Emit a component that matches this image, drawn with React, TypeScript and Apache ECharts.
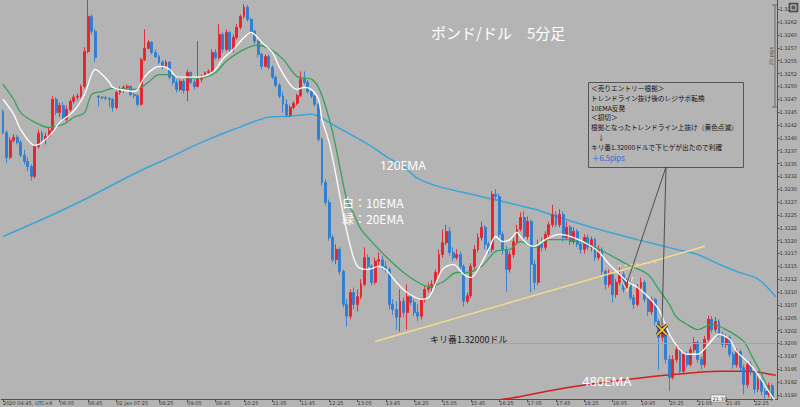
import React, { useEffect, useRef } from "react";
import * as echarts from "echarts";

// ---- categories (5-minute bars) ----
const firstBar = "04:45";
const barStepMinutes = 5;
const slotCount = 219;
const categories: string[] = (() => {
  const [h0, m0] = firstBar.split(":").map(Number);
  const out: string[] = [];
  for (let k = 0; k < slotCount; k++) {
    const t = h0 * 60 + m0 + barStepMinutes * k;
    out.push(String(Math.floor(t / 60)).padStart(2, "0") + ":" + String(t % 60).padStart(2, "0"));
  }
  return out;
})();

// ---- tick labels ----
const timeTickTimes = ["04:45","06:05","06:45","07:25","08:25","09:05","09:45","10:25","11:05","11:45","12:25","13:05","13:45","14:25","15:05","15:45","16:25","17:05","17:45","18:25","19:05","19:45","20:25","21:05","21:45","22:25"];
const timeTickLabels = ["2020 04:45, UTC+9","06:05","06:45","02 Jan 07:25","08:25","09:05","09:45","10:25","11:05","11:45","12:25","13:05","13:45","14:25","15:05","15:45","16:25","17:05","17:45","18:25","19:05","19:45","20:25","21:05","21:45","22:25"];
const priceTicks = [1.3190,1.31925,1.3195,1.31975,1.3200,1.32025,1.3205,1.32075,1.3210,1.32125,1.3215,1.32175,1.3220,1.32225,1.3225,1.32275,1.3230,1.32325,1.3235,1.32375,1.3240,1.32425,1.3245,1.32475,1.3250,1.32525,1.3255,1.32575,1.3260,1.32625,1.3265];

// ---- candles [open, close, low, high] ----
const candles: number[][] = [
[1.32451,1.32410,1.32407,1.32455],[1.32410,1.32362,1.32352,1.32414],[1.32362,1.32395,1.32358,1.32401],[1.32395,1.32401,1.32391,1.32407],
[1.32401,1.32391,1.32387,1.32405],[1.32391,1.32366,1.32362,1.32395],[1.32366,1.32354,1.32348,1.32377],[1.32354,1.32344,1.32335,1.32362],
[1.32344,1.32325,1.32317,1.32348],[1.32325,1.32383,1.32321,1.32387],[1.32383,1.32409,1.32379,1.32416],[1.32409,1.32397,1.32391,1.32414],
[1.32397,1.32403,1.32387,1.32410],[1.32403,1.32414,1.32399,1.32420],[1.32414,1.32475,1.32410,1.32481],[1.32475,1.32449,1.32444,1.32479],
[1.32449,1.32463,1.32440,1.32469],[1.32463,1.32436,1.32432,1.32469],[1.32436,1.32455,1.32432,1.32463],[1.32455,1.32471,1.32451,1.32475],
[1.32471,1.32479,1.32467,1.32484],[1.32479,1.32481,1.32473,1.32486],[1.32481,1.32500,1.32477,1.32504],[1.32500,1.32568,1.32496,1.32576],
[1.32568,1.32636,1.32564,1.32669],[1.32636,1.32607,1.32601,1.32640],[1.32607,1.32556,1.32547,1.32611],[1.32481,1.32479,1.32461,1.32483],
[1.32479,1.32478,1.32475,1.32481],[1.32478,1.32477,1.32473,1.32481],[1.32477,1.32475,1.32459,1.32479],[1.32475,1.32459,1.32451,1.32477],
[1.32459,1.32488,1.32455,1.32492],[1.32488,1.32494,1.32484,1.32500],[1.32494,1.32498,1.32488,1.32502],[1.32498,1.32500,1.32492,1.32504],
[1.32500,1.32484,1.32481,1.32502],[1.32484,1.32482,1.32477,1.32488],[1.32482,1.32465,1.32461,1.32486],[1.32465,1.32552,1.32463,1.32556],
[1.32552,1.32574,1.32549,1.32611],[1.32574,1.32586,1.32572,1.32590],[1.32586,1.32566,1.32562,1.32588],[1.32566,1.32558,1.32555,1.32572],
[1.32558,1.32547,1.32543,1.32562],[1.32547,1.32539,1.32533,1.32551],[1.32539,1.32547,1.32537,1.32551],[1.32547,1.32518,1.32514,1.32549],
[1.32518,1.32508,1.32502,1.32521],[1.32508,1.32494,1.32488,1.32514],[1.32494,1.32510,1.32490,1.32514],[1.32510,1.32492,1.32486,1.32514],
[1.32492,1.32527,1.32471,1.32533],[1.32527,1.32508,1.32504,1.32529],[1.32508,1.32500,1.32494,1.32514],[1.32500,1.32514,1.32498,1.32588],
[1.32514,1.32519,1.32508,1.32523],[1.32519,1.32527,1.32518,1.32529],[1.32527,1.32529,1.32523,1.32533],[1.32529,1.32566,1.32525,1.32572],
[1.32566,1.32556,1.32552,1.32572],[1.32556,1.32601,1.32552,1.32621],[1.32601,1.32572,1.32566,1.32605],[1.32572,1.32605,1.32568,1.32611],
[1.32605,1.32572,1.32566,1.32607],[1.32572,1.32595,1.32566,1.32601],[1.32595,1.32615,1.32591,1.32621],[1.32615,1.32636,1.32611,1.32640],
[1.32636,1.32654,1.32632,1.32660],[1.32654,1.32630,1.32626,1.32658],[1.32630,1.32607,1.32603,1.32634],[1.32607,1.32588,1.32582,1.32611],
[1.32588,1.32562,1.32556,1.32591],[1.32562,1.32539,1.32533,1.32566],[1.32539,1.32558,1.32537,1.32562],[1.32558,1.32537,1.32533,1.32562],
[1.32537,1.32518,1.32514,1.32541],[1.32518,1.32502,1.32498,1.32521],[1.32502,1.32481,1.32477,1.32506],[1.32481,1.32465,1.32449,1.32490],
[1.32465,1.32444,1.32440,1.32475],[1.32444,1.32459,1.32440,1.32463],[1.32459,1.32467,1.32455,1.32471],[1.32467,1.32482,1.32463,1.32486],
[1.32482,1.32514,1.32479,1.32529],[1.32514,1.32508,1.32504,1.32529],[1.32508,1.32490,1.32486,1.32512],[1.32490,1.32481,1.32477,1.32494],
[1.32481,1.32465,1.32461,1.32484],[1.32465,1.32397,1.32393,1.32469],[1.32397,1.32313,1.32307,1.32401],[1.32313,1.32274,1.32268,1.32319],
[1.32274,1.32206,1.32200,1.32280],[1.32206,1.32163,1.32158,1.32212],[1.32163,1.32183,1.32154,1.32193],[1.32183,1.32140,1.32134,1.32187],
[1.32140,1.32076,1.32070,1.32144],[1.32076,1.32053,1.32033,1.32086],[1.32053,1.32099,1.32047,1.32105],[1.32099,1.32076,1.32066,1.32109],
[1.32076,1.32091,1.32062,1.32105],[1.32091,1.32115,1.32086,1.32125],[1.32115,1.32167,1.32111,1.32187],[1.32167,1.32150,1.32144,1.32173],
[1.32150,1.32119,1.32113,1.32154],[1.32119,1.32160,1.32115,1.32167],[1.32160,1.32163,1.32152,1.32177],[1.32163,1.32150,1.32144,1.32171],
[1.32150,1.32144,1.32138,1.32160],[1.32144,1.32076,1.32066,1.32148],[1.32076,1.32066,1.32056,1.32086],[1.32066,1.32051,1.32027,1.32082],
[1.32051,1.32082,1.32023,1.32105],[1.32082,1.32060,1.32051,1.32089],[1.32060,1.32091,1.32027,1.32115],[1.32091,1.32080,1.32074,1.32097],
[1.32080,1.32060,1.32054,1.32086],[1.32060,1.32053,1.32043,1.32076],[1.32053,1.32086,1.32047,1.32089],[1.32086,1.32105,1.32080,1.32111],
[1.32105,1.32109,1.32099,1.32119],[1.32109,1.32115,1.32101,1.32123],[1.32115,1.32138,1.32109,1.32144],[1.32138,1.32173,1.32132,1.32183],
[1.32173,1.32196,1.32167,1.32222],[1.32196,1.32218,1.32191,1.32231],[1.32218,1.32177,1.32171,1.32226],[1.32177,1.32167,1.32160,1.32187],
[1.32167,1.32173,1.32162,1.32183],[1.32173,1.32150,1.32144,1.32179],[1.32150,1.32082,1.32072,1.32154],[1.32082,1.32093,1.32078,1.32099],
[1.32093,1.32150,1.32088,1.32156],[1.32150,1.32183,1.32144,1.32191],[1.32183,1.32206,1.32177,1.32214],[1.32206,1.32226,1.32200,1.32237],
[1.32226,1.32193,1.32183,1.32230],[1.32193,1.32183,1.32175,1.32198],[1.32183,1.32290,1.32177,1.32296],[1.32290,1.32286,1.32280,1.32300],
[1.32286,1.32212,1.32206,1.32292],[1.32212,1.32183,1.32173,1.32218],[1.32183,1.32144,1.32101,1.32189],[1.32144,1.32173,1.32138,1.32179],
[1.32173,1.32198,1.32167,1.32206],[1.32198,1.32222,1.32193,1.32231],[1.32222,1.32245,1.32218,1.32255],[1.32245,1.32208,1.32202,1.32257],
[1.32208,1.32237,1.32202,1.32247],[1.32237,1.32154,1.32099,1.32241],[1.32154,1.32119,1.32105,1.32163],[1.32119,1.32193,1.32113,1.32202],
[1.32193,1.32187,1.32179,1.32206],[1.32187,1.32212,1.32181,1.32218],[1.32212,1.32231,1.32206,1.32237],[1.32231,1.32251,1.32226,1.32270],
[1.32251,1.32231,1.32226,1.32257],[1.32231,1.32251,1.32226,1.32261],[1.32251,1.32206,1.32198,1.32257],[1.32206,1.32226,1.32202,1.32237],
[1.32226,1.32198,1.32191,1.32230],[1.32198,1.32218,1.32193,1.32226],[1.32218,1.32193,1.32187,1.32222],[1.32193,1.32183,1.32175,1.32198],
[1.32183,1.32206,1.32175,1.32212],[1.32206,1.32187,1.32181,1.32212],[1.32187,1.32202,1.32179,1.32208],[1.32202,1.32167,1.32160,1.32206],
[1.32167,1.32183,1.32162,1.32191],[1.32183,1.32140,1.32134,1.32187],[1.32140,1.32115,1.32105,1.32144],[1.32115,1.32134,1.32109,1.32144],
[1.32134,1.32095,1.32080,1.32140],[1.32095,1.32119,1.32089,1.32125],[1.32119,1.32134,1.32113,1.32148],[1.32134,1.32105,1.32099,1.32140],
[1.32105,1.32121,1.32101,1.32126],[1.32121,1.32089,1.32084,1.32125],[1.32089,1.32076,1.32068,1.32095],[1.32076,1.32109,1.32072,1.32115],
[1.32109,1.32119,1.32103,1.32128],[1.32119,1.32086,1.32080,1.32123],[1.32086,1.32062,1.32054,1.32089],[1.32062,1.32086,1.32056,1.32091],
[1.32086,1.32043,1.32035,1.32089],[1.32043,1.32012,1.31949,1.32047],[1.32012,1.32027,1.32004,1.32035],[1.32027,1.31969,1.31961,1.32031],
[1.31969,1.31934,1.31907,1.31977],[1.31934,1.31969,1.31930,1.31977],[1.31969,1.31988,1.31963,1.31996],[1.31988,1.31946,1.31938,1.31992],
[1.31946,1.31979,1.31940,1.31984],[1.31979,1.31959,1.31953,1.31984],[1.31959,1.31988,1.31955,1.31994],[1.31988,1.32002,1.31982,1.32012],
[1.32002,1.31969,1.31963,1.32006],[1.31969,1.31959,1.31949,1.31975],[1.31959,1.32008,1.31953,1.32014],[1.32008,1.32047,1.32004,1.32054],
[1.32047,1.32027,1.32021,1.32053],[1.32027,1.32043,1.32021,1.32051],[1.32043,1.32018,1.32012,1.32047],[1.32018,1.31998,1.31992,1.32023],
[1.31998,1.32012,1.31992,1.32019],[1.32012,1.31979,1.31973,1.32016],[1.31979,1.31959,1.31951,1.31984],[1.31959,1.31984,1.31953,1.31990],
[1.31984,1.31953,1.31947,1.31988],[1.31953,1.31920,1.31901,1.31959],[1.31920,1.31959,1.31914,1.31965],[1.31959,1.31946,1.31938,1.31965],
[1.31946,1.31911,1.31903,1.31949],[1.31911,1.31930,1.31905,1.31936],[1.31930,1.31907,1.31899,1.31934],[1.31907,1.31901,1.31893,1.31913],
[1.31901,1.31918,1.31895,1.31924],[1.31918,1.31895,1.31887,1.31922]
];

// ---- moving-average lines: [bar index, price] ----
const ema10White: number[][] = [[0,1.32475],[3,1.32446],[5,1.32416],[9,1.32385],[11,1.32391],[14,1.32411],[16,1.32430],[19,1.32446],[21,1.32461],[23,1.32484],[25,1.32523],[26,1.32533],[28,1.32523],[30,1.32508],[31,1.32498],[33,1.32494],[37,1.32490],[38,1.32494],[40,1.32519],[43,1.32537],[45,1.32539],[47,1.32533],[49,1.32519],[52,1.32518],[55,1.32518],[58,1.32523],[60,1.32533],[62,1.32553],[65,1.32572],[68,1.32595],[70,1.32605],[71,1.32601],[73,1.32586],[76,1.32566],[78,1.32537],[81,1.32504],[83,1.32494],[85,1.32498],[87,1.32494],[89,1.32475],[90,1.32436],[92,1.32391],[94,1.32325],[96,1.32251],[98,1.32189],[100,1.32150],[103,1.32144],[106,1.32150],[108,1.32144],[111,1.32119],[114,1.32099],[118,1.32086],[120,1.32089],[121,1.32099],[124,1.32144],[127,1.32154],[128,1.32150],[130,1.32134],[132,1.32128],[134,1.32144],[137,1.32183],[139,1.32208],[141,1.32198],[143,1.32202],[145,1.32216],[146,1.32208],[148,1.32193],[150,1.32189],[153,1.32202],[157,1.32212],[161,1.32206],[165,1.32193],[168,1.32179],[171,1.32154],[174,1.32134],[176,1.32121],[179,1.32109],[182,1.32091],[185,1.32066],[188,1.32018],[191,1.31988],[193,1.31979],[196,1.31979],[199,1.31998],[202,1.32018],[205,1.32008],[207,1.31984],[210,1.31965],[213,1.31940],[216,1.31907],[218,1.31887]];
const ema20Green: number[][] = [[0,1.32504],[3,1.32475],[5,1.32449],[9,1.32430],[13,1.32420],[17,1.32426],[20,1.32440],[23,1.32449],[25,1.32484],[28,1.32490],[31,1.32496],[37,1.32494],[39,1.32498],[41,1.32508],[44,1.32523],[46,1.32523],[50,1.32518],[54,1.32516],[57,1.32518],[60,1.32527],[63,1.32549],[67,1.32568],[70,1.32578],[72,1.32580],[75,1.32574],[79,1.32553],[83,1.32519],[87,1.32514],[89,1.32498],[91,1.32461],[93,1.32411],[95,1.32344],[97,1.32280],[99,1.32251],[101,1.32222],[104,1.32198],[108,1.32169],[113,1.32138],[117,1.32119],[120,1.32111],[124,1.32119],[128,1.32138],[131,1.32138],[135,1.32150],[139,1.32179],[143,1.32183],[146,1.32198],[150,1.32187],[154,1.32202],[159,1.32202],[165,1.32193],[171,1.32173],[176,1.32154],[182,1.32134],[185,1.32105],[188,1.32076],[190,1.32051],[193,1.32037],[196,1.32027],[200,1.32037],[204,1.32027],[209,1.32004],[211,1.31979],[214,1.31940],[217,1.31895]];
const ema120Blue: number[][] = [[0,1.32208],[11,1.32241],[23,1.32280],[37,1.32330],[47,1.32362],[56,1.32391],[65,1.32416],[75,1.32440],[81,1.32442],[87,1.32446],[89,1.32442],[94,1.32422],[99,1.32403],[104,1.32383],[108,1.32364],[113,1.32344],[117,1.32321],[123,1.32305],[131,1.32292],[141,1.32276],[150,1.32261],[157,1.32245],[168,1.32222],[179,1.32202],[190,1.32183],[196,1.32173],[202,1.32154],[207,1.32140],[213,1.32125],[218,1.32091]];
const ema480Red: number[][] = [[130,1.31878],[139,1.31889],[146,1.31897],[155,1.31909],[165,1.31920],[176,1.31930],[190,1.31940],[202,1.31946],[210,1.31946],[218,1.31938]];

// ---- reference levels ----
const roundLevel = 1.32; // キリ番
const roundLevelFrom = 131;
const trendLine = [[105, 1.32004], [198, 1.32189]];

const noteLines = [
  "＜売りエントリー根拠＞",
  "トレンドライン抜け後のレジサポ転換",
  "10EMA反発",
  "＜損切＞",
  "根拠となったトレンドライン上抜け（黄色点滅）",
  "　↓",
  "キリ番1.32000ドルで下ヒゲが出たので利確",
];
const noteResult = "＋6.5pips";

const BG = "#b4b4b4";
const UP = "#e5232b";
const DOWN = "#2e7dd3";
const JP = '"Noto Sans CJK JP", "Noto Sans", sans-serif';

export default function App() {
  const ref = useRef<HTMLDivElement>(null);
  useEffect(() => {
    document.body.style.margin = "0";
    const chart = echarts.init(ref.current!, null, { renderer: "svg" });
    const tickMap = new Map<number, string>();
    timeTickTimes.forEach((t, k) => tickMap.set(categories.indexOf(t), timeTickLabels[k]));
    const isTick = (index: number) => tickMap.has(index);

    const txt = (text: string, x: number, y: number, font: string, fill: string, extra: any = {}) => ({
      type: "text",
      z: 100,
      silent: true,
      style: { text, x, y, font, fill, textAlign: "left", align: "left", textVerticalAlign: "middle", verticalAlign: "middle", ...extra },
    });

    const noteY = [88, 98, 108, 117, 127, 137, 147];
    const graphics: any[] = [
      txt("ポンド/ドル　5分足", 431, 32, `15px ${JP}`, "#ffffff"),
      txt("120EMA", 380, 165, `12px "Noto Sans", sans-serif`, "#ffffff"),
      txt("白：10EMA", 342, 202, `12px ${JP}`, "#ffffff"),
      txt("緑：20EMA", 342, 218, `12px ${JP}`, "#ffffff"),
      txt("キリ番1.32000ドル", 430, 339, `9px ${JP}`, "#222222"),
      txt("480EMA", 582, 381, `13px "Noto Sans", sans-serif`, "#ffffff"),
      {
        type: "rect", z: 100, silent: true,
        shape: { x: 588.5, y: 82.5, width: 155, height: 85 },
        style: { fill: "none", stroke: "#555555", lineWidth: 1 },
      },
      ...noteLines.map((s, k) => txt(s, 591, noteY[k], `6.7px ${JP}`, "#111111")),
      txt(noteResult, 592, 157, `7.5px ${JP}`, "#2d5fd6"),
      { type: "line", z: 100, silent: true, shape: { x1: 666, y1: 167, x2: 627, y2: 283 }, style: { stroke: "#333333", lineWidth: 0.8 } },
      { type: "line", z: 100, silent: true, shape: { x1: 666, y1: 167, x2: 662, y2: 325 }, style: { stroke: "#333333", lineWidth: 0.8 } },
      // yellow flashing dashed segment
      { type: "line", z: 100, silent: true, shape: { x1: 618, y1: 266, x2: 660, y2: 262 }, style: { stroke: "#f2dc8a", lineWidth: 1, lineDash: [3, 3] } },
      // entry mark
      { type: "polyline", z: 100, silent: true, shape: { points: [[621, 279], [627, 291], [633, 277]] }, style: { stroke: "#f4e39a", lineWidth: 1.3, fill: "none" } },
      // exit X mark
      { type: "line", z: 100, silent: true, shape: { x1: 657, y1: 325, x2: 667, y2: 335 }, style: { stroke: "#222", lineWidth: 3.5 } },
      { type: "line", z: 100, silent: true, shape: { x1: 667, y1: 325, x2: 657, y2: 335 }, style: { stroke: "#222", lineWidth: 3.5 } },
      { type: "line", z: 101, silent: true, shape: { x1: 657, y1: 325, x2: 667, y2: 335 }, style: { stroke: "#f0c23a", lineWidth: 1.8 } },
      { type: "line", z: 101, silent: true, shape: { x1: 667, y1: 325, x2: 657, y2: 335 }, style: { stroke: "#f0c23a", lineWidth: 1.8 } },
      // measuring tool at top right
      { type: "line", z: 100, silent: true, shape: { x1: 775, y1: 5, x2: 775, y2: 107 }, style: { stroke: "#555", lineWidth: 0.8 } },
      { type: "line", z: 100, silent: true, shape: { x1: 772, y1: 5, x2: 778, y2: 5 }, style: { stroke: "#555", lineWidth: 0.8 } },
      { type: "line", z: 100, silent: true, shape: { x1: 772, y1: 107, x2: 778, y2: 107 }, style: { stroke: "#555", lineWidth: 0.8 } },
      { ...txt("20 pips", 0, 0, `5px "DejaVu Sans", sans-serif`, "#444", { textAlign: "center", align: "center" }), x: 771, y: 56, rotation: Math.PI / 2 },
      // corner icon
      { type: "rect", z: 100, silent: true, shape: { x: 789, y: 3, width: 9, height: 9 }, style: { fill: "#5a5a5a", stroke: "#333", lineWidth: 0.5 } },
      { type: "rect", z: 101, silent: true, shape: { x: 791, y: 5, width: 5, height: 5 }, style: { fill: "none", stroke: "#ddd", lineWidth: 0.8 } },
      // crosshair time box
      { type: "rect", z: 100, silent: true, shape: { x: 711, y: 395, width: 15, height: 7 }, style: { fill: "#f2f2f2", stroke: "#666", lineWidth: 0.5 } },
      txt("21:30", 712.5, 398.5, `5px "DejaVu Sans", sans-serif`, "#333"),
    ];

    const lineSeries = (name: string, data: number[][], color: string, width: number, z: number) => ({
      name, type: "line", data, smooth: 0.3, symbol: "none", showSymbol: false, silent: true, clip: true, z,
      lineStyle: { color, width },
    });

    chart.setOption({
      animation: false,
      backgroundColor: BG,
      grid: { left: -1, right: 20, top: 0, bottom: 8 },
      xAxis: {
        type: "category",
        data: categories,
        boundaryGap: true,
        axisLine: { show: true, lineStyle: { color: "#505050", width: 1 } },
        axisTick: { show: true, alignWithLabel: true, interval: (i: number) => isTick(i), length: 3, lineStyle: { color: "#505050" } },
        axisLabel: {
          interval: (i: number) => isTick(i),
          formatter: (_v: string, i: number) => tickMap.get(i) ?? "",
          align: "left", fontSize: 5, color: "#333", margin: 1.5, fontFamily: "DejaVu Sans",
        },
        splitLine: { show: false },
      },
      yAxis: {
        type: "value",
        position: "right",
        min: 1.31892,
        max: 1.32668,
        axisLine: { show: true, lineStyle: { color: "#505050", width: 1 } },
        axisTick: { show: true, length: 2, customValues: priceTicks, lineStyle: { color: "#505050" } },
        axisLabel: {
          customValues: priceTicks,
          formatter: (v: number) => (Math.floor(v * 10000 + 1e-6) / 10000).toFixed(4),
          fontSize: 5, color: "#333", margin: 2, fontFamily: "DejaVu Sans",
        },
        splitLine: { show: false },
      },
      series: [
        lineSeries("120EMA", ema120Blue, "#3ba5d8", 1.5, 2),
        lineSeries("480EMA", ema480Red, "#d61e1e", 1.5, 2),
        {
          name: "GBPUSD",
          type: "candlestick",
          data: candles,
          barWidth: 2.4,
          z: 3,
          clip: true,
          silent: true,
          itemStyle: { color: UP, color0: DOWN, borderColor: UP, borderColor0: DOWN, borderWidth: 0.9 },
          markLine: {
            silent: true,
            symbol: ["none", "none"],
            label: { show: false },
            emphasis: { disabled: true },
            data: [
              [
                { coord: [trendLine[0][0], trendLine[0][1]], lineStyle: { color: "#f3dc8c", width: 1.5, type: "solid" } },
                { coord: [trendLine[1][0], trendLine[1][1]] },
              ],
              [
                { coord: [roundLevelFrom, roundLevel], lineStyle: { color: "#79acd9", width: 1, type: "solid" } },
                { coord: [slotCount - 1, roundLevel] },
              ],
            ],
          },
        },
        lineSeries("20EMA", ema20Green, "#37a05c", 1.3, 4),
        lineSeries("10EMA", ema10White, "#ffffff", 1.3, 5),
      ],
      graphic: graphics,
    });
    return () => chart.dispose();
  }, []);
  return <div ref={ref} style={{ position: "absolute", left: 0, top: 0, width: 800, height: 407 }} />;
}
